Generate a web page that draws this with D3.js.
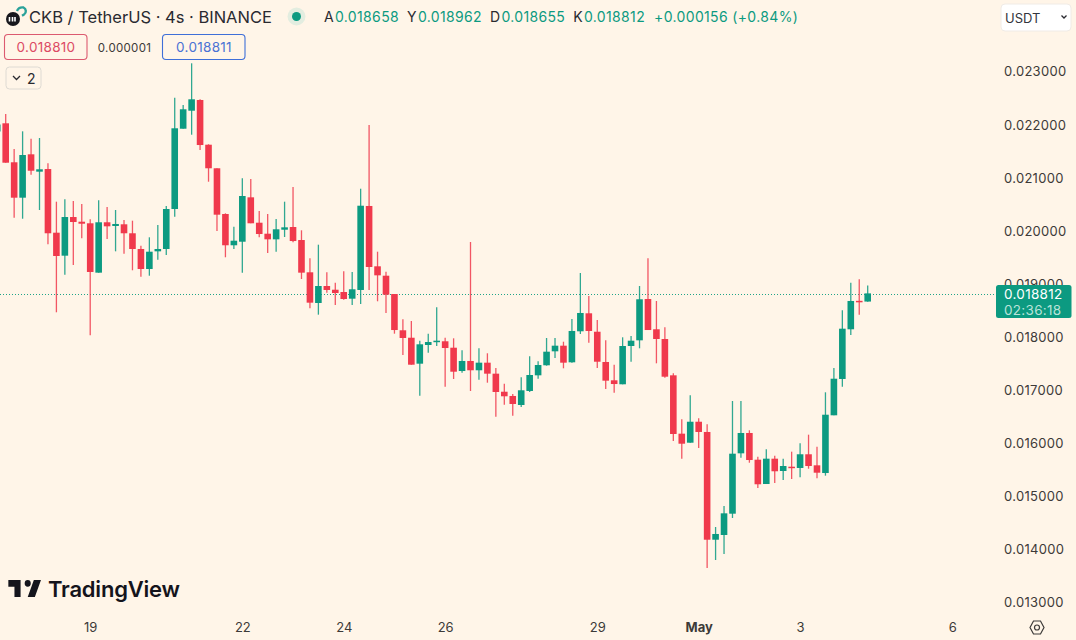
<!DOCTYPE html>
<html>
<head>
<meta charset="utf-8">
<script src="https://cdn.jsdelivr.net/npm/d3@7"></script>
<style>
  html, body { margin: 0; padding: 0; background: #fff5e8; }
  svg { display: block; font-family: Inter, "Noto Sans", sans-serif; }
</style>
</head>
<body>
<svg width="1076" height="640"></svg>
<script>
// 4h candles, first one is cut off by the left edge
var opens = [0.021861,0.022015,0.021281,0.020614,0.021431,0.021104,0.021154,0.019955,0.019522,0.020250,0.020162,0.020132,0.019202,0.020151,0.020081,0.020113,0.019944,0.019648,0.019271,0.019604,0.019648,0.020401,0.021913,0.022252,0.022454,0.021612,0.021168,0.020307,0.019718,0.019785,0.020621,0.020143,0.019936,0.019830,0.020011,0.020062,0.019817,0.019209,0.018631,0.018951,0.018881,0.018838,0.018712,0.018876,0.020458,0.019322,0.019145,0.018800,0.018117,0.017977,0.017488,0.017840,0.017896,0.017910,0.017789,0.017350,0.017539,0.017364,0.017507,0.017300,0.016960,0.016880,0.016710,0.016974,0.017269,0.017458,0.017721,0.017827,0.017514,0.018098,0.018437,0.018090,0.017520,0.017175,0.017100,0.017821,0.017928,0.018706,0.018136,0.017953,0.017269,0.016170,0.016000,0.016395,0.016202,0.014173,0.014262,0.014663,0.015800,0.016183,0.015680,0.015222,0.015699,0.015467,0.015548,0.015524,0.015782,0.015574,0.015429,0.016516,0.017200,0.018136,0.018672,0.018658]
var highs = [0.022040,0.022190,0.021531,0.021864,0.021725,0.021738,0.021262,0.020539,0.020584,0.020552,0.020495,0.020207,0.020565,0.020439,0.020382,0.020194,0.020181,0.019710,0.019868,0.020100,0.020458,0.022497,0.022360,0.023145,0.022467,0.021620,0.021168,0.020320,0.020068,0.020979,0.020966,0.020363,0.020307,0.020213,0.020539,0.020815,0.020000,0.019473,0.019729,0.019209,0.019013,0.019228,0.019215,0.020783,0.021983,0.019597,0.019220,0.018800,0.018324,0.018292,0.017921,0.018053,0.018550,0.017977,0.017966,0.017740,0.019780,0.017778,0.017684,0.017407,0.017111,0.016917,0.017232,0.017627,0.017533,0.017972,0.017972,0.017902,0.018330,0.019196,0.018763,0.018311,0.017928,0.017469,0.017985,0.018009,0.018951,0.019473,0.018669,0.018173,0.017307,0.016441,0.016893,0.016460,0.016347,0.014412,0.014808,0.016785,0.016785,0.016234,0.015736,0.015876,0.015755,0.015699,0.015831,0.015989,0.016151,0.015925,0.016949,0.017407,0.018493,0.019013,0.019077,0.018962]
var lows = [0.021813,0.021273,0.020237,0.020218,0.021047,0.020382,0.019736,0.018456,0.019164,0.019347,0.019849,0.018023,0.019202,0.019836,0.019604,0.019559,0.019247,0.019126,0.019145,0.019446,0.019535,0.020256,0.021913,0.021800,0.021512,0.020915,0.019987,0.019492,0.019648,0.019202,0.020132,0.019868,0.019572,0.019597,0.019874,0.019774,0.019083,0.018531,0.018411,0.018825,0.018593,0.018693,0.018593,0.018612,0.018876,0.018663,0.018443,0.018053,0.017652,0.017469,0.016885,0.017695,0.017821,0.017055,0.017200,0.017318,0.016974,0.017186,0.017130,0.016490,0.016716,0.016509,0.016672,0.016955,0.017205,0.017450,0.017595,0.017401,0.017507,0.018047,0.017883,0.017407,0.017011,0.016942,0.017100,0.017525,0.017778,0.018122,0.017495,0.017224,0.016032,0.015699,0.016000,0.015900,0.013640,0.013791,0.013904,0.014582,0.015718,0.015623,0.015147,0.015222,0.015241,0.015298,0.015316,0.015348,0.015510,0.015330,0.015379,0.016516,0.017055,0.018028,0.018411,0.018655]
var closes = [0.021992,0.021273,0.020614,0.021418,0.021122,0.021149,0.019944,0.019516,0.020250,0.020156,0.020124,0.019215,0.020151,0.020075,0.020119,0.019944,0.019648,0.019271,0.019597,0.019648,0.020401,0.021921,0.022279,0.022467,0.021606,0.021168,0.020294,0.019718,0.019804,0.020646,0.020132,0.019930,0.019830,0.020019,0.020056,0.019798,0.019202,0.018637,0.018951,0.018876,0.018819,0.018706,0.018889,0.020463,0.019309,0.019152,0.018787,0.018122,0.017972,0.017469,0.017853,0.017896,0.017921,0.017783,0.017337,0.017539,0.017364,0.017507,0.017300,0.016955,0.016874,0.016729,0.016987,0.017275,0.017463,0.017714,0.017827,0.017507,0.018104,0.018443,0.018104,0.017525,0.017168,0.017105,0.017821,0.017921,0.018701,0.018122,0.017953,0.017243,0.016164,0.015981,0.016395,0.016202,0.014173,0.014281,0.014670,0.015793,0.016183,0.015674,0.015217,0.015699,0.015462,0.015561,0.015524,0.015782,0.015561,0.015435,0.016527,0.017205,0.018147,0.018669,0.018658,0.018812]

var priceTicks = [0.023,0.022,0.021,0.020,0.019,0.018,0.017,0.016,0.015,0.014,0.013]
var dayIndex = [11,29,41,53,71,83,95,113]
var dayLabels = ["19","22","24","26","29","May","3","6"]
var lastPrice = 0.018812

var green = "#0c9a81", red = "#f0394c"
var svg = d3.select("svg")

var x = d3.scaleLinear().domain([0, 103]).range([-2.75, 867.7])
var y = d3.scaleLinear().domain([0.013, 0.023]).range([602, 71])

// axes
var yAxis = svg.append("g")
  .attr("transform", "translate(992,0)")
  .call(d3.axisRight(y).tickValues(priceTicks).tickSize(0).tickPadding(12).tickFormat(d3.format(".6f")))
yAxis.select(".domain").remove()
yAxis.selectAll("text").attr("font-size", 13).attr("fill", "#3d3a38").attr("font-family", "Inter").attr("dy", "0.38em").style("letter-spacing", "0.3px")

var xAxis = svg.append("g")
  .attr("transform", "translate(0,620)")
  .call(d3.axisBottom(x).tickValues(dayIndex).tickSize(0).tickPadding(3)
    .tickFormat(function(d, i) { return dayLabels[i] }))
xAxis.select(".domain").remove()
xAxis.selectAll("text").attr("font-size", 13).attr("fill", "#3d3a38").attr("font-family", "Inter")
  .attr("font-weight", function(d, i) { return dayLabels[i] == "May" ? 700 : 400 })

// last price dotted line, snapped to a pixel row so the dots stay green
svg.append("line")
  .attr("x1", 0).attr("x2", 996)
  .attr("y1", Math.ceil(y(lastPrice)) + 0.5).attr("y2", Math.ceil(y(lastPrice)) + 0.5)
  .attr("stroke", "#1fa488").attr("stroke-width", 1).attr("stroke-dasharray", "1 2")

// candles
var candles = svg.append("g").selectAll("g").data(closes).join("g")
  .attr("fill", function(d, i) { return d >= opens[i] ? green : red })
  .attr("stroke", function(d, i) { return d >= opens[i] ? green : red })

candles.append("line")
  .attr("x1", function(d, i) { return x(i) })
  .attr("x2", function(d, i) { return x(i) })
  .attr("y1", function(d, i) { return y(highs[i]) })
  .attr("y2", function(d, i) { return y(lows[i]) })
  .attr("stroke-width", 1.3)
  .attr("stroke-opacity", 0.85)

candles.append("rect")
  .attr("x", function(d, i) { return x(i) - 3.3 })
  .attr("width", 6.6)
  .attr("y", function(d, i) { return y(Math.max(opens[i], d)) })
  .attr("height", function(d, i) { return Math.max(1.5, Math.abs(y(opens[i]) - y(d))) })
  .attr("stroke", "none")

// last price tag
svg.append("rect").attr("x", 996).attr("y", 285).attr("width", 75.5).attr("height", 33).attr("rx", 2.5).attr("fill", green)
svg.append("text").attr("x", 1004).attr("y", 299).attr("font-size", 13.5).attr("fill", "#fff").style("letter-spacing", "0.3px").text(d3.format(".6f")(lastPrice))
svg.append("text").attr("x", 1004).attr("y", 314.5).attr("font-size", 13.5).attr("fill", "#b9e3d9").style("letter-spacing", "0.3px").text("02:36:18")

// header
svg.append("circle").attr("cx", 13).attr("cy", 19).attr("r", 7).attr("fill", "#17171c")
svg.append("path").attr("d", "M9.5 17v4.5M12.5 17v4.5M15 17v4.5").attr("stroke", "#fff").attr("stroke-width", 1.6).attr("fill", "none")
svg.append("path").attr("d", "M17 11a6 5.5 0 0 1 6.5 -3.5a4 4 0 0 1 .5 7l-2 1.2").attr("stroke", "#2ba29a").attr("stroke-width", 2.4).attr("fill", "none")
svg.append("text").attr("x", 29).attr("y", 23).attr("font-size", 16.5).attr("fill", "#2a2a30").text("CKB / TetherUS · 4s · BINANCE")

svg.append("circle").attr("cx", 296.5).attr("cy", 16.5).attr("r", 9).attr("fill", "#e3ede0")
svg.append("circle").attr("cx", 296.5).attr("cy", 16.5).attr("r", 4.5).attr("fill", green)

var ohlcLetters = ["A", "Y", "D", "K"]
var ohlcValues = ["0.018658", "0.018962", "0.018655", "0.018812"]
var ohlc = svg.append("text").attr("x", 324).attr("y", 21.5).attr("font-size", 14).style("letter-spacing", "0.35px")
ohlcValues.forEach(function(v, i) {
  ohlc.append("tspan").attr("fill", "#2a2a30").attr("dx", i ? 8 : 0).text(ohlcLetters[i])
  ohlc.append("tspan").attr("fill", green).attr("dx", 1).text(v)
})
ohlc.append("tspan").attr("fill", green).attr("dx", 9).text("+0.000156 (+0.84%)")

// sell / buy boxes
svg.append("rect").attr("x", 4.5).attr("y", 34.5).attr("width", 82.5).attr("height", 25).attr("rx", 3.5).attr("fill", "none").attr("stroke", "#dc5a70").attr("stroke-width", 1.1)
svg.append("text").attr("x", 46).attr("y", 52).attr("text-anchor", "middle").attr("font-size", 13.5).attr("fill", "#dc4a64").style("letter-spacing", "0.3px").text("0.018810")
svg.append("text").attr("x", 124.5).attr("y", 51.5).attr("text-anchor", "middle").attr("font-size", 11.5).attr("fill", "#3d3a38").style("letter-spacing", "0.3px").text("0.000001")
svg.append("rect").attr("x", 162.5).attr("y", 34.5).attr("width", 82.5).attr("height", 25).attr("rx", 3.5).attr("fill", "none").attr("stroke", "#3f6fd8").attr("stroke-width", 1.1)
svg.append("text").attr("x", 204).attr("y", 52).attr("text-anchor", "middle").attr("font-size", 13.5).attr("fill", "#4a72d4").style("letter-spacing", "0.3px").text("0.018811")

// collapsed indicators button
svg.append("rect").attr("x", 6).attr("y", 67).attr("width", 35).attr("height", 22).attr("rx", 3.5).attr("fill", "#fff5e8").attr("stroke", "#dedad3")
svg.append("path").attr("d", "M13 76l3.5 3.5l3.5 -3.5").attr("fill", "none").attr("stroke", "#2a2a30").attr("stroke-width", 1.3)
svg.append("text").attr("x", 27).attr("y", 83.5).attr("font-size", 14).attr("fill", "#2a2a30").text("2")

// currency select
svg.append("rect").attr("x", 1001).attr("y", 4).attr("width", 70).attr("height", 27).attr("rx", 4).attr("fill", "#fff").attr("stroke", "#f0ebe6")
svg.append("text").attr("x", 1005).attr("y", 22.5).attr("font-size", 13).attr("fill", "#33353d").text("USDT")
svg.append("path").attr("d", "M1061.5 15.5l2.5 2.5l2.5 -2.5").attr("fill", "none").attr("stroke", "#2a2a30").attr("stroke-width", 1.3)

// TradingView logo
svg.append("path")
  .attr("transform", "translate(6.3,573.2) scale(1.02,1.13)")
  .attr("fill", "#14141c")
  .attr("d", "M14 6H2v6h6v9h6V6zm14 15h-7l6-15h7l-6 15zm-7-9a3 3 0 1 0 0-6 3 3 0 0 0 0 6z")
svg.append("text").attr("x", 48).attr("y", 597).attr("font-size", 22).attr("font-weight", 600).attr("fill", "#14141c").style("letter-spacing", "-0.2px").text("TradingView")

// settings icon
svg.append("path").attr("d", "M1030 627.5l3.5 -6.5h7l3.5 6.5l-3.5 6.5h-7z").attr("fill", "none").attr("stroke", "#3d3a38").attr("stroke-width", 1.2)
svg.append("circle").attr("cx", 1037).attr("cy", 627.5).attr("r", 2.5).attr("fill", "none").attr("stroke", "#3d3a38").attr("stroke-width", 1.2)
</script>
</body>
</html>
